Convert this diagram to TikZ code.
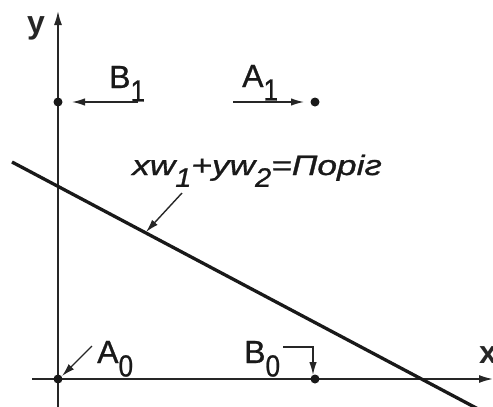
\documentclass[tikz,border=0pt]{standalone}
\usepackage{fontspec}
\setmainfont{Liberation Sans}
\newfontfamily\lblfont[FakeBold=0.9]{Liberation Sans}
\usetikzlibrary{arrows.meta}
\newcommand\sbs[1]{\raisebox{-0.42em}{\scalebox{0.82}[0.95]{#1}}}
\begin{document}
\begin{tikzpicture}[x=1pt,y=-1pt,
  axis/.style={line width=1.6pt, draw=black!85, -{Latex[length=14pt,width=8pt]}},
  thr/.style={line width=3.3pt, draw=black!90},
  sarrow/.style={line width=1.4pt, draw=black!85, -{Latex[length=13pt,width=7.5pt]}},
  dot/.style={circle, fill=black!90, inner sep=0pt, minimum size=9pt},
  lbl/.style={font=\lblfont\fontsize{32}{32}\selectfont, inner sep=0pt, anchor=base west, text=black!90},
  axlbl/.style={font=\bfseries\fontsize{32}{32}\selectfont, inner sep=0pt, anchor=base west, text=black!85},
  frm/.style={font=\lblfont\itshape\fontsize{28}{28}\selectfont, inner sep=0pt, anchor=base west, text=black!90}]
\useasboundingbox (0,0) rectangle (493,407);
% axes
\coordinate (yb) at (58,407);
\coordinate (yt) at (58,11);
\coordinate (xl) at (32,379);
\coordinate (xr) at (493,379);
\draw[axis] (yb) -- (yt);
\draw[axis] (xl) -- (xr);
\node[axlbl] (ylab) at (27,33) {y};
\node[axlbl] (xlab) at (479,363) {x};
% threshold line
\coordinate (t1) at (12,162);
\coordinate (t2) at (480,410);
\draw[thr] (t1) -- (t2);
% points
\node[dot] (B1) at (58,102) {};
\node[dot] (A1) at (315,102) {};
\node[dot] (A0) at (58,379) {};
\node[dot] (B0) at (315,379) {};
% labels
\node[lbl] (lB1) at (109,88) {B\sbs{1}};
\node[lbl] (lA1) at (242,87) {A\sbs{1}};
\node[lbl] (lA0) at (97,363) {A\sbs{0}};
\node[lbl] (lB0) at (244,363) {B\sbs{0}};
\node[frm] (form) at (132,175) {\scalebox{1.26}[1]{xw\sbs{1}+yw\sbs{2}=Поріг}};
% label arrows
\coordinate (b1s) at (138,102);
\coordinate (b1e) at (72,102);
\draw[sarrow] (b1s) -- (b1e);
\coordinate (a1s) at (233,102);
\coordinate (a1e) at (304,102);
\draw[sarrow] (a1s) -- (a1e);
\coordinate (a0s) at (92,346);
\coordinate (a0e) at (62,376);
\draw[sarrow] (a0s) -- (a0e);
\coordinate (b0s) at (283,347);
\coordinate (b0e) at (313,375);
\draw[sarrow] (b0s) -| (b0e);
\coordinate (fs) at (182,193);
\coordinate (fe) at (146,232);
\draw[sarrow] (fs) -- (fe);
\end{tikzpicture}
\end{document}
